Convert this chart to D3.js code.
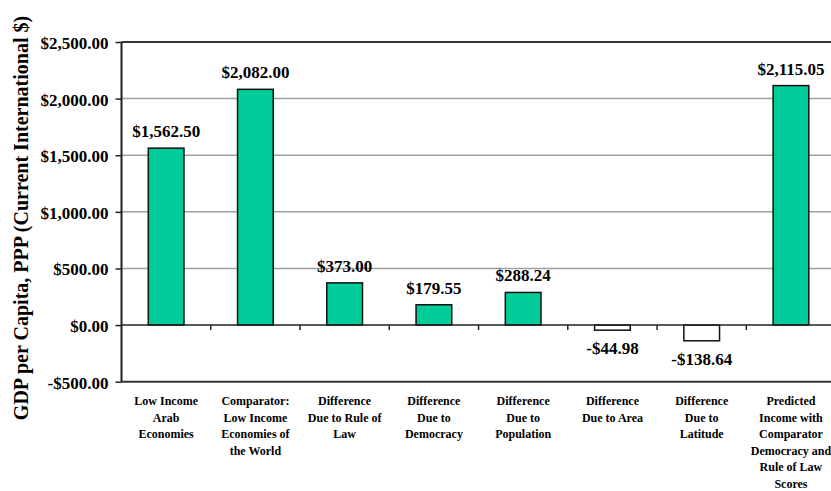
<!DOCTYPE html>
<html>
<head>
<meta charset="utf-8">
<script src="https://cdn.jsdelivr.net/npm/d3@7"></script>
<style>
  html, body { margin: 0; padding: 0; background: #fff; }
  svg { display: block; }
  text { font-family: "Liberation Serif", "Times New Roman", serif; font-weight: bold; fill: #000; }
</style>
</head>
<body>
<svg id="chart" width="831" height="491"></svg>
<script>
// Category labels, one array of lines per bar
const categoryLines = [
  ["Low Income", "Arab", "Economies"],
  ["Comparator:", "Low Income", "Economies of", "the World"],
  ["Difference", "Due to Rule of", "Law"],
  ["Difference", "Due to", "Democracy"],
  ["Difference", "Due to", "Population"],
  ["Difference", "Due to Area"],
  ["Difference", "Due to", "Latitude"],
  ["Predicted", "Income with", "Comparator", "Democracy and", "Rule of Law", "Scores"]
];
const categories = categoryLines.map(l => l.join(" "));
const values = [1562.50, 2082.00, 373.00, 179.55, 288.24, -44.98, -138.64, 2115.05];
const yTicks = [-500, 0, 500, 1000, 1500, 2000, 2500];
const yTitle = "GDP per Capita, PPP (Current International $)";

const svg = d3.select("#chart");
const W = 831;

const x = d3.scaleBand()
  .domain(categories)
  .range([121.5, 121.5 + 8 * 89.26])
  .paddingInner(0.6)
  .paddingOuter(0.3);
const step = x.step();

const y = d3.scaleLinear().domain([-500, 2500]).range([381.7, 42]);

const money = v => (v < 0 ? "-$" : "$") + d3.format(",.2f")(Math.abs(v));

// Horizontal gridlines
svg.append("g").selectAll("line")
  .data(yTicks.filter(t => t > 0 && t < 2500))
  .join("line")
  .attr("x1", 121.5).attr("x2", W)
  .attr("y1", d => y(d)).attr("y2", d => y(d))
  .attr("stroke", "#a0a0a0").attr("stroke-width", 1.5);

// Top and bottom frame lines
svg.append("line")
  .attr("x1", 121.5).attr("x2", W)
  .attr("y1", y(2500)).attr("y2", y(2500))
  .attr("stroke", "#333").attr("stroke-width", 2);
svg.append("line")
  .attr("x1", 121.5).attr("x2", W)
  .attr("y1", y(-500)).attr("y2", y(-500))
  .attr("stroke", "#333").attr("stroke-width", 2);

// Bars
svg.append("g").selectAll("rect")
  .data(values)
  .join("rect")
  .attr("x", (d, i) => x(categories[i]))
  .attr("width", x.bandwidth())
  .attr("y", d => y(Math.max(d, 0)))
  .attr("height", d => Math.abs(y(d) - y(0)))
  .attr("fill", d => d >= 0 ? "#00cc99" : "#ffffff")
  .attr("stroke", "#111")
  .attr("stroke-width", 1.5);

// Zero line with category separator ticks
svg.append("line")
  .attr("x1", 121.5).attr("x2", W)
  .attr("y1", y(0)).attr("y2", y(0))
  .attr("stroke", "#222").attr("stroke-width", 1.5);
svg.append("g").selectAll("line")
  .data(d3.range(1, 8))
  .join("line")
  .attr("x1", i => 121.5 + i * step).attr("x2", i => 121.5 + i * step)
  .attr("y1", y(0)).attr("y2", y(0) + 5)
  .attr("stroke", "#222").attr("stroke-width", 1.5);

// Left value axis
const yAxis = svg.append("g")
  .attr("transform", "translate(121.5,0)")
  .call(d3.axisLeft(y).tickValues(yTicks).tickSize(6).tickPadding(7).tickFormat(money));
yAxis.select(".domain").attr("stroke", "#222").attr("stroke-width", 2)
  .attr("d", `M0,${y(2500)}V${y(-500)}`);
yAxis.selectAll(".tick line").attr("stroke", "#222").attr("stroke-width", 1.5);
yAxis.selectAll(".tick text")
  .attr("font-size", 17)
  .attr("font-family", "'Liberation Serif', 'Times New Roman', serif")
  .attr("font-weight", "bold")
  .attr("fill", "#000")
  .attr("dy", "0.38em");

// Value labels
svg.append("g").selectAll("text")
  .data(values)
  .join("text")
  .attr("x", (d, i) => x(categories[i]) + x.bandwidth() / 2)
  .attr("y", d => d >= 0 ? y(d) - 11 : y(d) + 24)
  .attr("text-anchor", "middle")
  .attr("font-size", 17)
  .text(d => money(d));

// Category labels
const cat = svg.append("g").selectAll("text")
  .data(categoryLines)
  .join("text")
  .attr("text-anchor", "middle")
  .attr("font-size", 12)
  .attr("transform", (d, i) => `translate(${x(categories[i]) + x.bandwidth() / 2},405)`);
cat.selectAll("tspan")
  .data(d => d)
  .join("tspan")
  .attr("x", 0)
  .attr("y", (d, j) => j * 16.6)
  .text(d => d);

// Value axis title
svg.append("text")
  .attr("transform", "translate(28,218) rotate(-90)")
  .attr("text-anchor", "middle")
  .attr("font-size", 20)
  .text(yTitle);
</script>
</body>
</html>
